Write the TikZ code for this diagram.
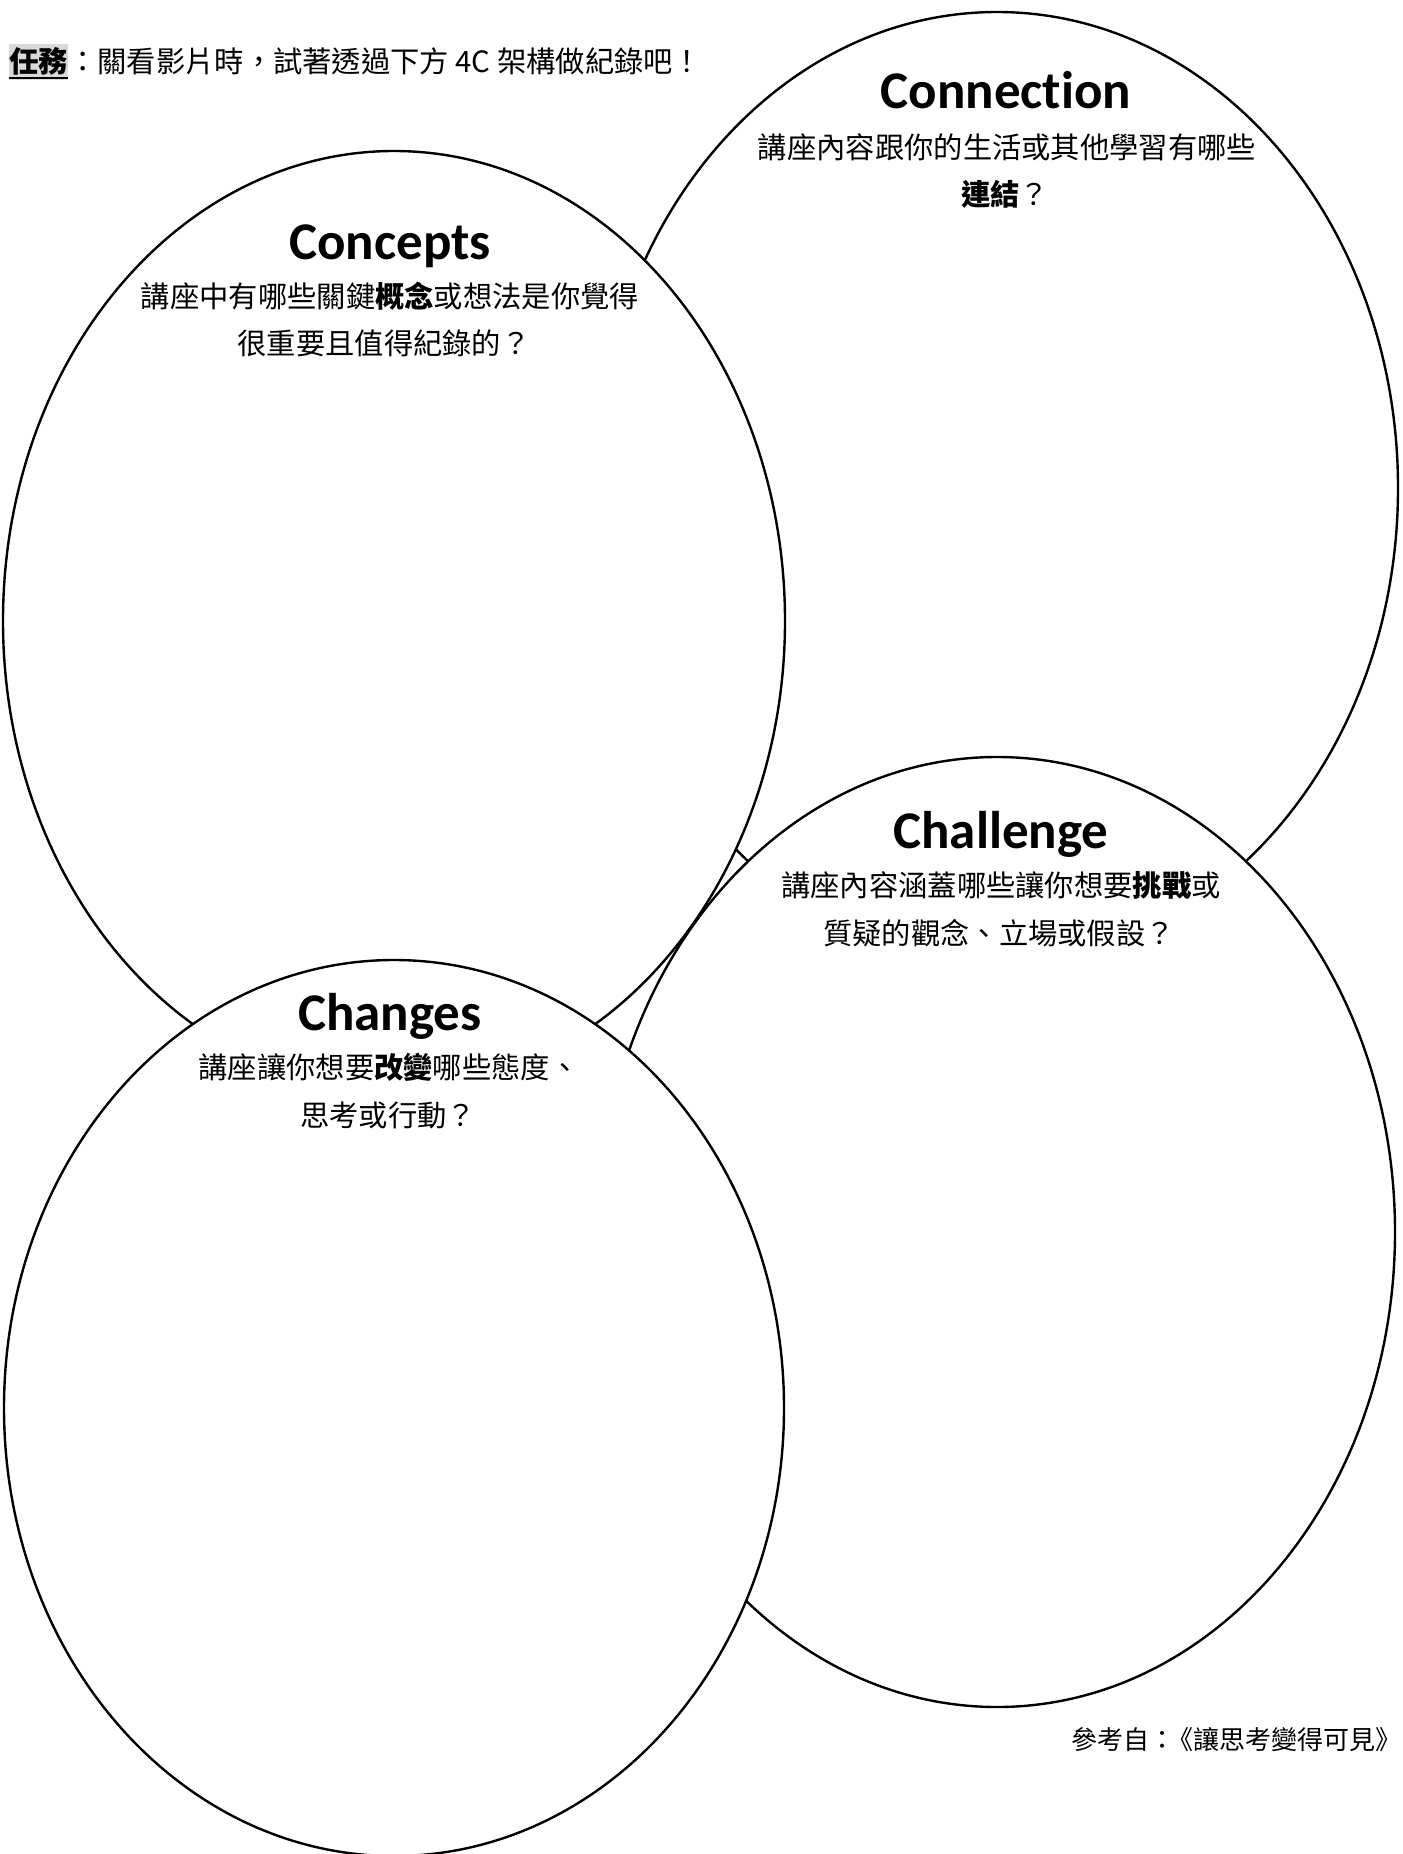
\documentclass[tikz,border=0pt]{standalone}
\usepackage{fontspec}
\setmainfont{Carlito}
\newfontfamily\cjk{Noto Sans CJK TC}
\newfontfamily\headfont{Carlito}[Ligatures=NoCommon]
\usetikzlibrary{shapes.geometric}
\tikzset{
  bubble/.style={ellipse, draw=black, line width=2.4pt, fill=white, inner sep=0pt, outer sep=0pt},
  heading/.style={font=\headfont\bfseries\fontsize{53}{60}\selectfont, anchor=base, inner sep=0pt},
  body/.style={font=\cjk\fontsize{29.3}{40}\selectfont, anchor=base, inner sep=0pt},
  note/.style={font=\cjk\fontsize{26}{30}\selectfont, anchor=base east, inner sep=0pt},
}
\begin{document}
\begin{tikzpicture}[x=1pt,y=-1pt]
\fill[white] (0,0) rectangle (1402,1854);
\useasboundingbox (0,0) rectangle (1402,1854);
% bubbles, bottom to top
\node[bubble, minimum width=802pt, minimum height=952pt] (connection) at (997,488) {};
\node[bubble, minimum width=782pt, minimum height=940pt] (concepts) at (394,621) {};
\node[bubble, minimum width=796pt, minimum height=950pt] (challenge) at (997,1232) {};
\node[bubble, minimum width=780pt, minimum height=896pt] (changes) at (394,1408) {};
% task line
\node[body, anchor=base west, font=\cjk\bfseries\fontsize{29.3}{35}\selectfont, fill=black!15, inner xsep=0pt, inner ysep=4pt] (tasklabel) at (9,73) {任務};
\draw[line width=2pt] ([yshift=2pt]tasklabel.south west) -- ([yshift=2pt]tasklabel.south east);
\node[body, anchor=base west] (tasktext) at (tasklabel.base east) {：關看影片時，試著透過下方 4C 架構做紀錄吧！};
% Connection
\node[heading] (connT) at (1006,109) {Connection};
\node[body] (conn1) at (1007,159) {講座內容跟你的生活或其他學習有哪些};
\node[body] (conn2) at (1005,205) {\textbf{連結}？};
% Concepts
\node[heading] (concT) at (390,259) {Concepts};
\node[body] (conc1) at (390,307) {講座中有哪些關鍵\textbf{概念}或想法是你覺得};
\node[body] (conc2) at (384,354) {很重要且值得紀錄的？};
% Challenge
\node[heading] (chalT) at (1001,848) {Challenge};
\node[body] (chal1) at (1001,896) {講座內容涵蓋哪些讓你想要\textbf{挑戰}或};
\node[body] (chal2) at (999,944) {質疑的觀念、立場或假設？};
% Changes
\node[heading] (chanT) at (390,1030) {Changes};
\node[body] (chan1) at (389,1078) {講座讓你想要\textbf{改變}哪些態度、};
\node[body] (chan2) at (388,1126) {思考或行動？};
% reference
\node[note] (ref) at (1402,1749) {參考自：\kern-0.3em《讓思考變得可見》};
\end{tikzpicture}
\end{document}
